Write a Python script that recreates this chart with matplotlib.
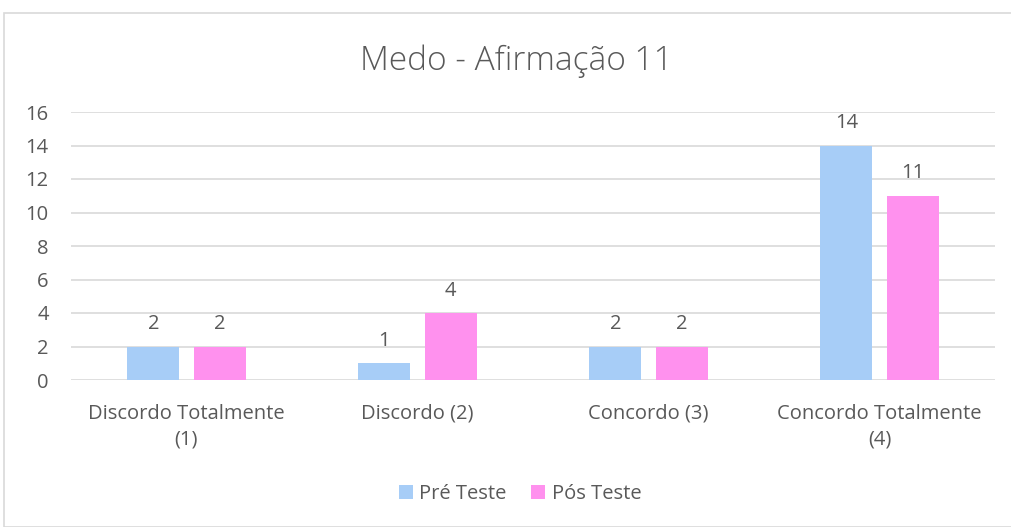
import matplotlib
matplotlib.use("Agg")
import matplotlib.pyplot as plt
from matplotlib.patches import Rectangle
import numpy as np

categories = ["Discordo Totalmente\n(1)", "Discordo (2)", "Concordo (3)", "Concordo Totalmente\n(4)"]
pre_teste = [2, 1, 2, 14]
pos_teste = [2, 4, 2, 11]
series_names = ["Pré Teste", "Pós Teste"]
yticks = [0, 2, 4, 6, 8, 10, 12, 14, 16]

txt = "#595959"
plt.rcParams["font.family"] = ["Open Sans", "DejaVu Sans"]
fs = 14.5

fig = plt.figure(figsize=(10.12, 5.27), dpi=100)
fig.patches.append(Rectangle((4/1012, 0), 1.1, 1 - 13/527, transform=fig.transFigure,
                             fill=False, edgecolor="#D9D9D9", linewidth=1.2))
ax = fig.add_axes([71/1012, 1 - 380/527, (995 - 71)/1012, (380 - 112)/527])

x = np.arange(len(categories))
w = 0.225
off = 0.143
b1 = ax.bar(x - off, pre_teste, w, color="#A7CDF7", label=series_names[0], zorder=3)
b2 = ax.bar(x + off, pos_teste, w, color="#FF91EE", label=series_names[1], zorder=3)
for bars in (b1, b2):
    for r in bars:
        ax.annotate(f"{int(r.get_height())}", (r.get_x() + r.get_width()/2, r.get_height()),
                    xytext=(0, 9), textcoords="offset points", ha="center", va="bottom",
                    fontsize=fs, color=txt)

ax.set_xlim(-0.5, len(categories) - 0.5)
ax.set_ylim(0, 16)
ax.set_yticks(yticks)
ax.set_xticks(x)
ax.set_xticklabels(categories, fontsize=fs, color=txt, linespacing=1.4)
ax.tick_params(axis="y", labelsize=fs, labelcolor=txt, length=0, pad=16)
ax.tick_params(axis="x", length=0, pad=17)
ax.grid(axis="y", color="#D9D9D9", linewidth=1.2, zorder=0)
for s in ax.spines.values():
    s.set_visible(False)

fig.text(516/1012, 1 - 61/527, "Medo - Afirmação 11", ha="center", va="center",
         fontsize=24, color=txt, fontweight="light")
fig.legend(loc="center", bbox_to_anchor=(520/1012, 1 - 494/527), ncol=2, frameon=False,
           fontsize=fs, labelcolor=txt, handlelength=0.72, handleheight=0.72,
           handletextpad=0.3, columnspacing=1.2)

fig.savefig("out.png", dpi=100, facecolor="white")
